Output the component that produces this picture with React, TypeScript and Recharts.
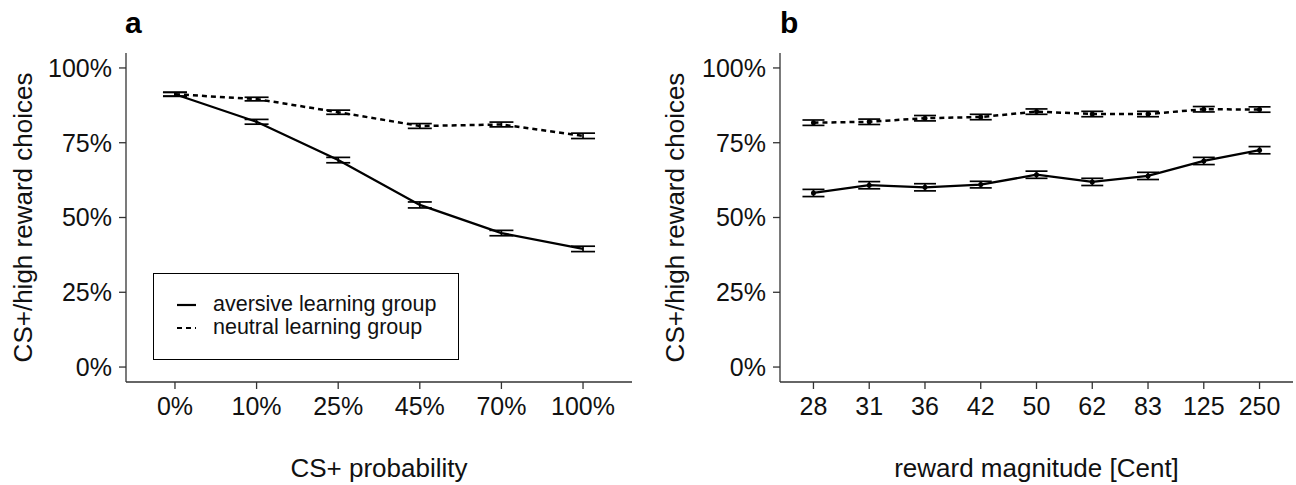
import { LineChart, Line, XAxis, YAxis, ErrorBar, Legend } from "recharts";

// panel a: CS+ probability
const probCategories = ["0%", "10%", "25%", "45%", "70%", "100%"];
const probAversive = [91.2, 82.0, 69.2, 54.2, 44.8, 39.5];
const probAversiveErr = [0.7, 0.8, 0.9, 1.0, 0.9, 0.9];
const probNeutral = [91.2, 89.6, 85.2, 80.6, 81.1, 77.3];
const probNeutralErr = [0.6, 0.6, 0.7, 0.8, 0.8, 0.9];

// panel b: reward magnitude
const rewardCategories = ["28", "31", "36", "42", "50", "62", "83", "125", "250"];
const rewardAversive = [58.2, 60.8, 60.1, 61.0, 64.3, 61.9, 63.9, 68.9, 72.5];
const rewardAversiveErr = [1.2, 1.2, 1.2, 1.1, 1.2, 1.2, 1.2, 1.2, 1.2];
const rewardNeutral = [81.7, 82.0, 83.2, 83.6, 85.4, 84.6, 84.6, 86.2, 86.1];
const rewardNeutralErr = [0.9, 0.9, 0.9, 0.9, 0.9, 0.9, 0.9, 0.9, 0.9];

const yTicks = [0, 25, 50, 75, 100];
const seriesNames = ["aversive learning group", "neutral learning group"];

const FONT = "'Liberation Sans', Arial, sans-serif";
const AXIS = "#333";
const DASH = "5 4";

function buildRows(aversive: number[], aErr: number[], neutral: number[], nErr: number[]) {
  return aversive.map((v, i) => ({
    x: i,
    aversive: v,
    aversiveErr: aErr[i],
    neutral: neutral[i],
    neutralErr: nErr[i],
  }));
}

const probData = buildRows(probAversive, probAversiveErr, probNeutral, probNeutralErr);
const rewardData = buildRows(rewardAversive, rewardAversiveErr, rewardNeutral, rewardNeutralErr);

function LegendBox({ payload }: any) {
  const items = payload && payload.length ? payload : seriesNames.map((n) => ({ value: n }));
  return (
    <div
      style={{
        boxSizing: "border-box",
        width: 306,
        height: 87,
        border: "1.6px solid #000",
        background: "#fff",
        paddingTop: 19,
        fontFamily: FONT,
        fontSize: 21.5,
        color: "#111",
      }}
    >
      {items.map((item: any, i: number) => (
        <div key={i} style={{ display: "flex", alignItems: "center", height: 23 }}>
          <svg width={59} height={23} style={{ flex: "none" }}>
            <line
              x1={23}
              x2={42}
              y1={12}
              y2={12}
              stroke="#000"
              strokeWidth={2.2}
              strokeDasharray={i === 1 ? DASH : undefined}
            />
          </svg>
          <span style={{ lineHeight: "23px" }}>{item.value}</span>
        </div>
      ))}
    </div>
  );
}

interface PanelProps {
  data: any[];
  categories: string[];
  width: number;
  leftOffset: number;
  rightMargin: number;
  capA: number;
  capN: number;
  dots: boolean;
  legend?: boolean;
}

function Panel({ data, categories, width, leftOffset, rightMargin, capA, capN, dots, legend }: PanelProps) {
  const n = categories.length;
  const tickStyle = { fontSize: 25, fill: "#111", fontFamily: FONT };
  return (
    <LineChart
      width={width}
      height={485}
      data={data}
      margin={{ top: 53, right: rightMargin, left: 0, bottom: 0 }}
    >
      <XAxis
        type="number"
        dataKey="x"
        domain={[-0.6, n - 1 + 0.6]}
        ticks={categories.map((_, i) => i)}
        tickFormatter={(v: number) => categories[v]}
        interval={0}
        allowDataOverflow
        height={103}
        tickSize={7}
        tickMargin={8}
        tick={tickStyle}
        stroke={AXIS}
        strokeWidth={1.3}
      />
      <YAxis
        type="number"
        domain={[-5, 105]}
        ticks={yTicks}
        tickFormatter={(v: number) => `${v}%`}
        allowDataOverflow
        width={leftOffset}
        tickSize={7}
        tickMargin={7}
        tick={tickStyle}
        stroke={AXIS}
        strokeWidth={1.3}
      />
      {legend && (
        <Legend
          layout="horizontal"
          verticalAlign="middle"
          align="center"
          wrapperStyle={{ left: 153, top: 273, width: 306, height: 87 }}
          content={(props: any) => <LegendBox payload={props.payload} />}
        />
      )}
      <Line
        type="linear"
        dataKey="aversive"
        name={seriesNames[0]}
        stroke="#000"
        strokeWidth={2.3}
        dot={dots ? { r: 2.5, fill: "#000", stroke: "#000", strokeWidth: 0 } : false}
        isAnimationActive={false}
      >
        <ErrorBar dataKey="aversiveErr" direction="y" width={capA} stroke="#000" strokeWidth={1.7} />
      </Line>
      <Line
        type="linear"
        dataKey="neutral"
        name={seriesNames[1]}
        stroke="#000"
        strokeWidth={2.5}
        strokeDasharray={DASH}
        dot={dots ? { r: 2.5, fill: "#000", stroke: "#000", strokeWidth: 0, strokeDasharray: "" } : false}
        isAnimationActive={false}
      >
        <ErrorBar dataKey="neutralErr" direction="y" width={capN} stroke="#000" strokeWidth={1.7} />
      </Line>
    </LineChart>
  );
}

export default function App() {
  const titleStyle = { fontFamily: FONT, fontSize: 26, fill: "#111" };
  return (
    <div style={{ position: "absolute", left: 0, top: 0, width: 1296, height: 485, background: "#fff" }}>
      <div style={{ position: "absolute", left: 0, top: 0 }}>
        <Panel
          data={probData}
          categories={probCategories}
          width={640}
          leftOffset={126}
          rightMargin={8}
          capA={12}
          capN={12}
          dots={false}
          legend
        />
      </div>
      <div style={{ position: "absolute", left: 640, top: 0 }}>
        <Panel
          data={rewardData}
          categories={rewardCategories}
          width={656}
          leftOffset={140}
          rightMargin={3}
          capA={11}
          capN={11}
          dots
        />
      </div>
      <svg
        width={1296}
        height={485}
        style={{ position: "absolute", left: 0, top: 0, pointerEvents: "none" }}
      >
        <text x={125} y={33} style={{ fontFamily: FONT, fontSize: 30, fontWeight: 700 }} fill="#000">
          a
        </text>
        <text x={780} y={33} style={{ fontFamily: FONT, fontSize: 30, fontWeight: 700 }} fill="#000">
          b
        </text>
        <text x={379} y={477} textAnchor="middle" style={titleStyle}>
          CS+ probability
        </text>
        <text x={1036.5} y={477} textAnchor="middle" style={titleStyle}>
          reward magnitude [Cent]
        </text>
        <text x={32} y={217.5} textAnchor="middle" transform="rotate(-90 32 217.5)" style={titleStyle}>
          CS+/high reward choices
        </text>
        <text x={684} y={217.5} textAnchor="middle" transform="rotate(-90 684 217.5)" style={titleStyle}>
          CS+/high reward choices
        </text>
      </svg>
    </div>
  );
}
